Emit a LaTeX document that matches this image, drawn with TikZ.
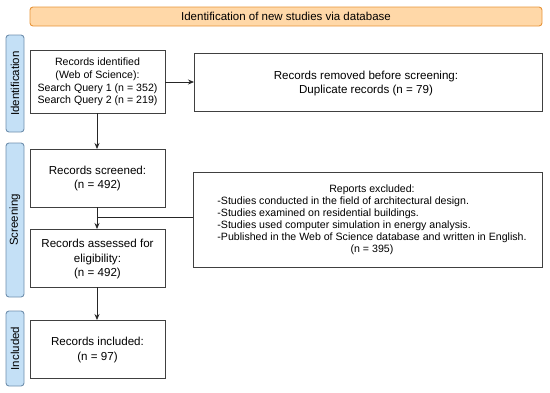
\documentclass[tikz,border=0pt]{standalone}
\usepackage{fontspec}
\setmainfont{Liberation Sans}
\usetikzlibrary{arrows.meta}
\definecolor{orfill}{HTML}{FFD8A8}
\definecolor{ordraw}{HTML}{E8953A}
\definecolor{blfill}{HTML}{C4E0F6}
\definecolor{bldraw}{HTML}{6F8FAD}
\definecolor{boxdraw}{HTML}{404040}
\begin{document}
\begin{tikzpicture}[x=1pt,y=-1pt,
  stagebox/.style={draw=bldraw,fill=blfill,rounded corners=3pt,line width=0.9pt},
  headbox/.style={draw=ordraw,fill=orfill,rounded corners=3pt,line width=0.9pt},
  recbox/.style={draw=boxdraw,line width=0.9pt},
  bigtext/.style={align=center,font=\fontsize{11.6}{14.5}\selectfont},
  smalltext/.style={align=center,font=\fontsize{10.6}{12.7}\selectfont},
  headtext/.style={align=center,font=\fontsize{11.5}{14}\selectfont},
  sidetext/.style={headtext,rotate=90},
  conn/.style={draw=black!85,line width=0.8pt},
  arr/.style={conn,-{Stealth[length=6pt,width=5pt]}}
]
\useasboundingbox (0,0) rectangle (550,392);
% header
\draw[headbox] (30,7) rectangle (542,26);
\node[headtext] (head) at (286,16.5) {Identification of new studies via database};
% side bars
\draw[stagebox] (6,35) rectangle (24,132);
\node[sidetext] (lid) at (15,83.5) {Identification};
\draw[stagebox] (6,143) rectangle (24,297);
\node[sidetext] (lsc) at (15,220) {Screening};
\draw[stagebox] (6,311) rectangle (24,386);
\node[sidetext] (lin) at (15,348.5) {Included};
% boxes
\draw[recbox] (30,50) rectangle (165,113);
\node[smalltext] (b1) at (97.5,82) {Records identified\\(Web of Science):\\Search Query 1 (n = 352)\\Search Query 2 (n = 219)};
\coordinate (b1r) at (165,82);
\coordinate (b1b) at (97,113);
\draw[recbox] (194,53) rectangle (542,111);
\node[bigtext] (rem) at (366,83.5) {Records removed before screening:\\Duplicate records (n = 79)};
\coordinate (reml) at (194,82);
\draw[recbox] (30,149) rectangle (165,207);
\node[bigtext] (scr) at (97.5,178.5) {Records screened:\\(n = 492)};
\coordinate (scrt) at (97,149);
\coordinate (scrb) at (97,207);
\draw[recbox] (30,229) rectangle (165,287);
\node[bigtext] (ass) at (97.5,259) {Records assessed for\\eligibility:\\(n = 492)};
\coordinate (asst) at (97,229);
\coordinate (assb) at (97,287);
\draw[recbox] (30,320) rectangle (165,378);
\node[bigtext] (inc) at (97.5,350) {Records included:\\(n = 97)};
\coordinate (inct) at (97,320);
\draw[recbox] (193,172) rectangle (542,267);
\node[align=center,font=\fontsize{10.6}{12}\selectfont] (exc) at (372,220) {Reports excluded:\\
\begin{tabular}{@{}l@{}}-Studies conducted in the field of architectural design.\\
-Studies examined on residential buildings.\\
-Studies used computer simulation in energy analysis.\\
-Published in the Web of Science database and written in English.\end{tabular}\\
(n = 395)};
\coordinate (excl) at (193,217);
\coordinate (join) at (97,217);
% connectors
\draw[arr] (b1r) -- (reml);
\draw[arr] (b1b) -- (scrt);
\draw[arr] (scrb) -- (asst);
\draw[conn] (excl) -- (join);
\draw[arr] (assb) -- (inct);
\end{tikzpicture}
\end{document}
